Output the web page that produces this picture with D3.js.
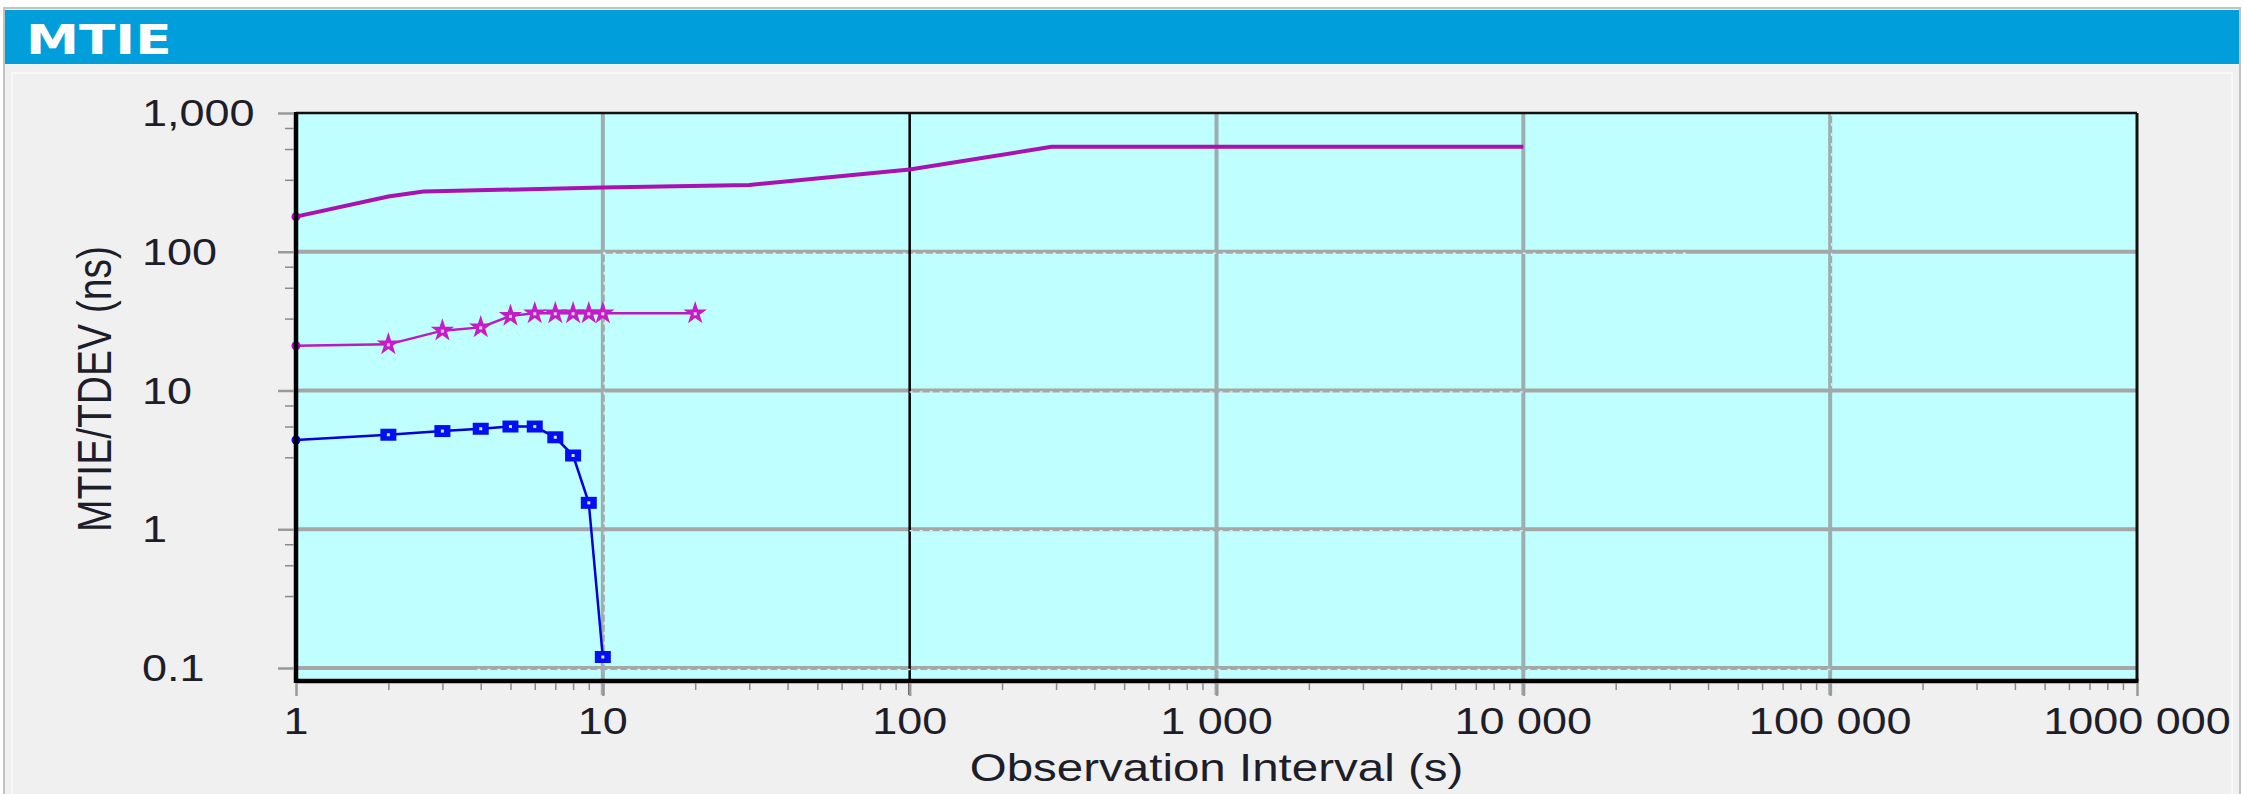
<!doctype html>
<html>
<head>
	<meta charset="utf-8">
	<style>
		body{margin:0;background:#fff;}
		text{font-family:"Liberation Sans",Arial,sans-serif;fill:#1e1e2a;}
		.title{font-family:"DejaVu Sans",Verdana,sans-serif;font-weight:bold;fill:#fff;}
	</style>
</head>
<body>
	<div id="root"></div>
	<script src="https://d3js.org/d3.v7.min.js"></script>
	<script>

		// values
		var xTicks = [1, 10, 100, 1000, 10000, 100000, 1000000];
		var xTickLabels = ['1', '10', '100', '1 000', '10 000', '100 000', '1000 000'];
		var yTicks = [0.1, 1, 10, 100, 1000];
		var yTickLabels = ['0.1', '1', '10', '100', '1,000'];
		var yMinorMult = [3.3, 5.5, 7.8];

		var mtieTau = [1, 2, 2.6, 10, 30, 100, 290, 10000];
		var mtieVal = [179, 250, 272, 290, 303, 392, 570, 570];

		var starTau = [1, 2, 3, 4, 5, 6, 7, 8, 9, 10, 20];
		var starVal = [21, 21.5, 27, 28.5, 34.5, 36, 36, 36, 36, 36, 36];

		var blueTau = [1, 2, 3, 4, 5, 6, 7, 8, 9, 10];
		var blueVal = [4.4, 4.8, 5.1, 5.3, 5.5, 5.5, 4.6, 3.4, 1.55, 0.12];

		var W = 2244, H = 794;
		var SX = 1.25; // the shot is stretched sideways
		var P = {left: 296, right: 2137, top: 113, bottom: 681};

		var x = d3.scaleLog().domain([1, 1e6]).range([P.left, P.right]);
		var y = d3.scaleLog().domain([0.1, 1000]).range([668, P.top]);

		var svg = d3.select('#root').append('svg')
			.attr('width', W)
			.attr('height', H);

		svg.append('rect').attr('x', 4).attr('y', 8).attr('width', 2236).attr('height', 790)
			.attr('fill', '#f0f0f0').attr('stroke', '#c2c2c2').attr('stroke-width', 2);
		svg.append('rect').attr('x', 12).attr('y', 73).attr('width', 2220).attr('height', 730)
			.attr('fill', 'none').attr('stroke', '#fafafa').attr('stroke-width', 1.5);
		svg.append('rect').attr('x', 5).attr('y', 10).attr('width', 2234).attr('height', 54)
			.attr('fill', '#009fdb');
		svg.append('text').attr('class', 'title')
			.attr('transform', 'translate(26,54) scale(1.3,1)')
			.style('font-size', '41px')
			.text('MTIE');

		// plot area
		svg.append('rect')
			.attr('x', P.left).attr('y', P.top)
			.attr('width', P.right - P.left).attr('height', P.bottom - P.top)
			.attr('fill', '#c0ffff');

		// grid
		var grid = svg.append('g');
		grid.selectAll('line.h')
			.data(yTicks.filter(function(d){ return d < 1000; }))
			.enter().append('line')
			.attr('x1', P.left).attr('x2', P.right)
			.attr('y1', y).attr('y2', y)
			.attr('stroke', '#a6a6a6').attr('stroke-width', 4);
		grid.selectAll('line.v')
			.data(xTicks.filter(function(d){ return d > 1 && d < 1e6; }))
			.enter().append('line')
			.attr('x1', x).attr('x2', x)
			.attr('y1', P.top).attr('y2', P.bottom + 14)
			.attr('stroke', function(d){ return d == 100 ? '#000' : '#9eaeae'; })
			.attr('stroke-width', function(d){ return d == 100 ? 2.5 : 4; });

		// lighter dashes that sit on parts of the grid
		var dashH = [[100, 10, 34000], [10, 100, 10000], [1, 100, 10000], [0.1, 3.9, 100000]];
		grid.selectAll('line.dh')
			.data(dashH)
			.enter().append('line')
			.attr('x1', function(d){ return x(d[1]); })
			.attr('x2', function(d){ return x(d[2]); })
			.attr('y1', function(d){ return y(d[0]) + 1.5; })
			.attr('y2', function(d){ return y(d[0]) + 1.5; })
			.attr('stroke', '#dcecec').attr('stroke-width', 1.5)
			.attr('stroke-dasharray', '3,7');
		var dashV = [[10, 100, 0.1], [100000, 1000, 10]];
		grid.selectAll('line.dv')
			.data(dashV)
			.enter().append('line')
			.attr('x1', function(d){ return x(d[0]) + 1.5; })
			.attr('x2', function(d){ return x(d[0]) + 1.5; })
			.attr('y1', function(d){ return y(d[1]); })
			.attr('y2', function(d){ return y(d[2]); })
			.attr('stroke', '#dcecec').attr('stroke-width', 1.5)
			.attr('stroke-dasharray', '3,7');

		// series
		var line = d3.line()
			.x(function(d){ return x(d[0]); })
			.y(function(d){ return y(d[1]); });

		var mtie = d3.zip(mtieTau, mtieVal);
		var star = d3.zip(starTau, starVal);
		var blue = d3.zip(blueTau, blueVal);

		svg.append('path').datum(mtie)
			.attr('d', line).attr('fill', 'none')
			.attr('stroke', '#a812b0').attr('stroke-width', 4);
		svg.append('path').datum(star)
			.attr('d', line).attr('fill', 'none')
			.attr('stroke', '#b81cc0').attr('stroke-width', 2.5);
		svg.append('path').datum(blue)
			.attr('d', line).attr('fill', 'none')
			.attr('stroke', '#0000d8').attr('stroke-width', 2.5);

		// first points are small dots
		svg.selectAll('circle.first')
			.data([[mtie[0], '#c000c8'], [star[0], '#c000c8'], [blue[0], '#0000e0']])
			.enter().append('circle')
			.attr('cx', function(d){ return x(d[0][0]); })
			.attr('cy', function(d){ return y(d[0][1]); })
			.attr('r', 4.5)
			.attr('fill', function(d){ return d[1]; });

		var starSym = d3.symbol().type(d3.symbolStar).size(170);
		var sm = svg.selectAll('g.star')
			.data(star.slice(1))
			.enter().append('g')
			.attr('transform', function(d){ return 'translate(' + x(d[0]) + ',' + y(d[1]) + ')'; });
		sm.append('path').attr('d', starSym).attr('fill', '#c41cc8');
		sm.append('rect').attr('x', -1.5).attr('y', -1).attr('width', 3).attr('height', 3).attr('fill', '#f0d0f4');

		var bm = svg.selectAll('g.sq')
			.data(blue.slice(1))
			.enter().append('g')
			.attr('transform', function(d){ return 'translate(' + x(d[0]) + ',' + y(d[1]) + ')'; });
		bm.append('rect').attr('x', -8).attr('y', -6).attr('width', 16).attr('height', 12).attr('fill', '#0010f0');
		bm.append('rect').attr('x', -1.5).attr('y', -1.5).attr('width', 3).attr('height', 3).attr('fill', '#d8e0ff');

		// frame
		svg.append('line').attr('x1', P.left).attr('x2', P.right).attr('y1', P.top).attr('y2', P.top)
			.attr('stroke', '#111').attr('stroke-width', 2.5);
		svg.append('line').attr('x1', P.right).attr('x2', P.right).attr('y1', P.top).attr('y2', P.bottom)
			.attr('stroke', '#111').attr('stroke-width', 3);
		svg.append('line').attr('x1', P.left).attr('x2', P.right + 1.5).attr('y1', P.bottom).attr('y2', P.bottom)
			.attr('stroke', '#000').attr('stroke-width', 4.5);
		svg.append('line').attr('x1', P.left).attr('x2', P.left).attr('y1', P.top - 1).attr('y2', P.bottom + 2)
			.attr('stroke', '#000').attr('stroke-width', 4.5);

		// tick marks
		var xMinor = [];
		xTicks.slice(0, -1).forEach(function(t){
			for (var k = 2; k < 10; k++) xMinor.push(t * k);
		});
		svg.append('g')
			.attr('transform', 'translate(0,' + (P.bottom + 2) + ')')
			.call(d3.axisBottom(x).tickValues(xMinor).tickSize(7).tickFormat(''))
			.call(function(g){
				g.select('.domain').remove();
				g.selectAll('line').attr('stroke', '#8a8a8a').attr('stroke-width', 1.5);
			});
		svg.append('g')
			.attr('transform', 'translate(0,' + (P.bottom + 2) + ')')
			.call(d3.axisBottom(x).tickValues(xTicks).tickSize(13).tickFormat(''))
			.call(function(g){
				g.select('.domain').remove();
				g.selectAll('line').attr('stroke', '#9a9a9a').attr('stroke-width', 2.5);
			});

		var yMinor = [];
		yTicks.slice(0, -1).forEach(function(t){
			yMinorMult.forEach(function(m){ yMinor.push(t * m); });
		});
		svg.append('g')
			.attr('transform', 'translate(' + (P.left - 2) + ',0)')
			.call(d3.axisLeft(y).tickValues(yMinor).tickSize(9).tickFormat(''))
			.call(function(g){
				g.select('.domain').remove();
				g.selectAll('line').attr('stroke', '#8a8a8a').attr('stroke-width', 1.5);
			});
		svg.append('g')
			.attr('transform', 'translate(' + (P.left - 2) + ',0)')
			.call(d3.axisLeft(y).tickValues(yTicks).tickSize(16).tickFormat(''))
			.call(function(g){
				g.select('.domain').remove();
				g.selectAll('line').attr('stroke', '#9a9a9a').attr('stroke-width', 2.5);
			});

		// tick labels
		svg.selectAll('text.xl')
			.data(xTicks)
			.enter().append('text')
			.attr('transform', function(d){ return 'translate(' + x(d) + ',734) scale(' + SX + ',1)'; })
			.attr('text-anchor', 'middle')
			.style('font-size', '36px')
			.text(function(d, i){ return xTickLabels[i]; });

		svg.selectAll('text.yl')
			.data(yTicks)
			.enter().append('text')
			.attr('transform', function(d){ return 'translate(142,' + (y(d) + 13) + ') scale(' + SX + ',1)'; })
			.style('font-size', '36px')
			.text(function(d, i){ return yTickLabels[i]; });

		// axis titles
		svg.append('text')
			.attr('transform', 'translate(' + ((P.left + P.right) / 2) + ',781) scale(' + SX + ',1)')
			.attr('text-anchor', 'middle')
			.style('font-size', '38px')
			.text('Observation Interval (s)');

		svg.append('text')
			.attr('transform', 'translate(111,389) scale(' + SX + ',1) rotate(-90)')
			.attr('text-anchor', 'middle')
			.style('font-size', '39px')
			.text('MTIE/TDEV (ns)');

	</script>
</body>
</html>
